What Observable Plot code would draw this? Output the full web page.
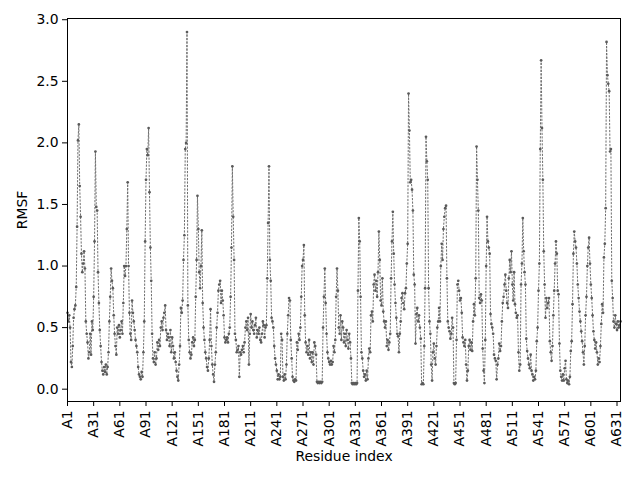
<!DOCTYPE html>
<html>
<head>
<meta charset="utf-8">
<script src="https://cdn.jsdelivr.net/npm/d3@7"></script>
<script src="https://cdn.jsdelivr.net/npm/@observablehq/plot@0.6"></script>
<style>
  html, body { margin: 0; padding: 0; background: #fff; }
  #chart svg { display: block; }
</style>
</head>
<body>
<div id="chart"></div>
<script>
// RMSF per residue (A1 ... A635)
const rmsf = [
  0.62,0.55,0.60,0.50,0.22,0.18,0.35,0.58,0.65,0.68,
  0.83,1.32,2.02,2.15,1.65,1.40,1.10,0.95,1.02,1.12,
  0.98,0.55,0.45,0.38,0.25,0.30,0.45,0.28,0.55,0.48,
  0.75,1.20,1.93,1.48,1.45,0.95,0.70,0.48,0.35,0.22,
  0.15,0.12,0.18,0.14,0.20,0.12,0.18,0.30,0.55,0.75,
  0.98,0.88,0.82,0.60,0.45,0.35,0.28,0.50,0.45,0.52,
  0.42,0.48,0.55,0.45,0.70,1.00,0.92,1.00,1.30,1.68,
  1.00,0.62,0.45,0.40,0.72,0.62,0.55,0.48,0.40,0.35,
  0.30,0.18,0.12,0.10,0.08,0.14,0.10,0.30,0.55,1.20,
  1.70,1.95,1.90,2.12,1.60,1.15,0.88,0.45,0.25,0.22,
  0.30,0.20,0.25,0.38,0.32,0.40,0.35,0.50,0.55,0.48,
  0.58,0.62,0.68,0.48,0.40,0.45,0.42,0.35,0.48,0.30,
  0.42,0.35,0.25,0.30,0.22,0.15,0.10,0.07,0.20,0.35,
  0.66,0.62,0.72,1.05,1.25,1.95,2.00,2.90,0.68,0.40,
  0.30,0.25,0.28,0.38,0.42,0.35,0.40,0.75,1.05,1.57,
  1.30,0.95,0.82,1.00,1.29,0.70,0.50,0.40,0.30,0.25,
  0.18,0.15,0.25,0.40,0.65,0.35,0.20,0.12,0.06,0.20,
  0.30,0.50,0.62,0.80,0.85,0.88,0.70,0.80,0.72,0.60,
  0.42,0.38,0.40,0.42,0.38,0.45,0.50,0.75,1.15,1.81,
  1.40,1.05,0.45,0.40,0.30,0.32,0.35,0.10,0.30,0.28,
  0.32,0.35,0.30,0.38,0.50,0.55,0.48,0.58,0.20,0.45,
  0.61,0.50,0.55,0.48,0.45,0.52,0.58,0.42,0.48,0.45,
  0.50,0.40,0.38,0.45,0.55,0.52,0.42,0.50,0.52,0.90,
  1.35,1.81,1.05,0.88,0.58,0.55,0.50,0.35,0.25,0.20,
  0.15,0.08,0.12,0.08,0.10,0.45,0.40,0.10,0.07,0.12,
  0.08,0.20,0.45,0.60,0.74,0.72,0.40,0.25,0.10,0.07,
  0.06,0.08,0.07,0.38,0.32,0.45,0.40,0.50,0.75,1.00,
  1.05,1.17,0.60,0.38,0.30,0.35,0.28,0.40,0.25,0.30,
  0.22,0.30,0.20,0.38,0.35,0.28,0.06,0.05,0.06,0.05,
  0.06,0.05,0.06,0.50,0.75,0.98,0.70,0.45,0.30,0.25,
  0.22,0.20,0.23,0.20,0.22,0.35,0.30,0.40,0.75,0.98,
  0.80,0.50,0.45,0.60,0.40,0.55,0.50,0.38,0.45,0.35,
  0.48,0.40,0.33,0.45,0.38,0.25,0.05,0.04,0.05,0.04,
  0.05,0.04,0.05,0.80,1.39,1.20,0.75,0.30,0.25,0.15,
  0.10,0.12,0.07,0.15,0.08,0.25,0.33,0.30,0.60,0.63,
  0.55,0.85,0.93,0.80,0.88,0.75,0.95,1.28,1.05,0.72,
  0.68,0.90,0.63,0.55,0.50,0.55,0.35,0.40,0.32,0.38,
  0.45,0.90,1.20,1.44,1.10,0.85,0.70,0.58,0.45,0.43,
  0.30,0.45,0.55,0.74,0.78,0.70,0.65,0.78,0.82,1.02,
  1.18,2.40,2.10,1.68,1.70,1.62,1.45,0.93,0.85,0.37,
  0.61,0.66,0.55,0.60,0.50,0.41,0.04,0.05,0.04,0.35,
  0.82,2.05,1.85,1.70,0.82,0.55,0.45,0.20,0.07,0.30,
  0.37,0.25,0.20,0.35,0.50,0.55,0.66,0.55,1.00,1.18,
  1.05,1.30,1.40,1.47,1.49,0.90,0.55,0.50,0.47,0.41,
  0.45,0.58,0.50,0.05,0.04,0.05,0.40,0.85,0.88,0.80,
  0.72,0.74,0.62,0.42,0.38,0.35,0.40,0.20,0.07,0.15,
  0.35,0.40,0.32,0.38,0.31,0.55,0.69,0.60,0.90,1.97,
  1.70,1.45,0.74,0.70,0.77,0.72,0.33,0.15,0.05,0.40,
  1.00,1.40,1.20,1.15,1.10,0.61,0.53,0.50,0.45,0.28,
  0.25,0.23,0.08,0.20,0.25,0.37,0.31,0.35,0.55,0.70,
  0.75,0.85,0.93,0.80,0.70,0.66,0.90,1.05,0.95,1.12,
  0.85,0.72,0.95,0.69,0.62,0.58,0.60,0.30,0.15,0.20,
  0.85,1.02,1.39,1.12,0.95,0.85,0.41,0.31,0.25,0.20,
  0.17,0.28,0.15,0.12,0.07,0.10,0.08,0.15,0.39,0.50,
  0.80,1.02,1.95,2.67,2.12,1.70,1.12,0.85,0.58,0.74,
  0.66,0.70,0.74,0.39,0.30,0.23,0.35,0.60,0.80,1.02,
  1.20,1.10,0.80,0.77,0.37,0.15,0.10,0.07,0.12,0.07,
  0.17,0.23,0.08,0.05,0.07,0.04,0.10,0.31,0.39,0.69,
  1.10,1.28,1.20,1.15,1.02,0.85,0.74,0.63,0.55,0.47,
  0.39,0.30,0.20,0.35,0.60,0.75,1.00,1.15,1.23,1.02,
  0.85,0.74,0.60,0.47,0.40,0.33,0.38,0.30,0.20,0.25,
  0.22,0.35,0.53,0.69,0.62,1.07,1.18,1.47,2.82,2.55,
  2.48,2.42,1.93,1.95,0.88,0.74,0.55,0.50,0.60,0.53,
  0.48,0.55,0.50,0.52,0.55
];

// tick positions (residue numbers) and their labels
const tickResidues = [1,31,61,91,121,151,181,211,241,271,301,331,361,391,421,451,481,511,541,571,601,631];
const tickLabels = ["A1","A31","A61","A91","A121","A151","A181","A211","A241","A271","A301","A331","A361","A391","A421","A451","A481","A511","A541","A571","A601","A631"];
const yTicks = [0.0,0.5,1.0,1.5,2.0,2.5,3.0];

const data = rmsf.map((v, i) => ({residue: i + 1, rmsf: v}));

const chart = Plot.plot({
  width: 640,
  height: 480,
  marginLeft: 67,
  marginRight: 20,
  marginTop: 18,
  marginBottom: 79,
  style: {fontFamily: "DejaVu Sans", fontSize: "13.9px", color: "#000", background: "#fff"},
  x: {domain: [1, rmsf.length]},
  y: {domain: [-0.10, 3.01]},
  marks: [
    Plot.line(data, {x: "residue", y: "rmsf", stroke: "#6e6e6e", strokeWidth: 1, strokeDasharray: "1.4,2.1"}),
    Plot.dot(data, {x: "residue", y: "rmsf", r: 1.35, fill: "#5a5a5a", stroke: "none"}),
    Plot.frame({stroke: "#000", strokeWidth: 1}),
    Plot.axisX({
      ticks: tickResidues,
      tickFormat: (d) => tickLabels[tickResidues.indexOf(d)],
      tickRotate: -90,
      tickSize: 5,
      tickPadding: 4,
      label: "Residue index",
      labelAnchor: "center",
      labelArrow: "none",
      labelOffset: 59
    }),
    Plot.axisY({
      ticks: yTicks,
      tickFormat: d3.format(".1f"),
      tickSize: 5,
      tickPadding: 4,
      label: "RMSF",
      labelAnchor: "center",
      labelArrow: "none",
      labelOffset: 50
    })
  ]
});
document.getElementById("chart").appendChild(chart);
</script>
</body>
</html>
